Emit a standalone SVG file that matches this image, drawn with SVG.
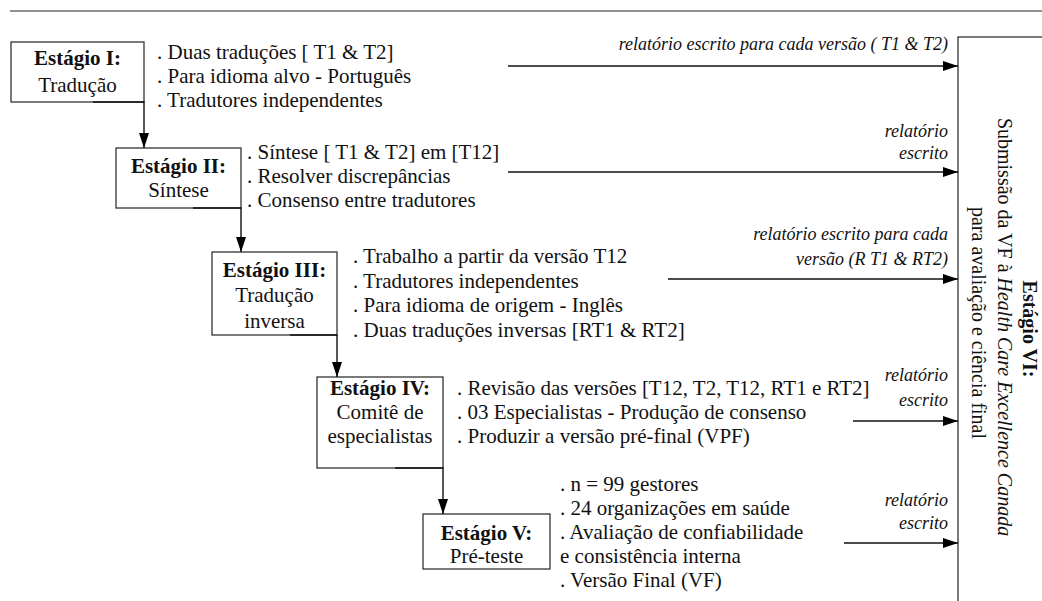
<svg xmlns="http://www.w3.org/2000/svg" width="1042" height="601" viewBox="0 0 1042 601">
<defs>
<marker id="ah" viewBox="0 0 15 10" refX="15" refY="5" markerWidth="15" markerHeight="10" markerUnits="userSpaceOnUse" orient="auto">
<path d="M0,0 L15,5 L0,10 Z" fill="#000"/>
</marker>
<style>
text{font-family:"Liberation Serif","Times New Roman",serif;font-size:21px;fill:#111}
.b{font-weight:bold}
.c{text-anchor:middle}
.v{font-size:20px}
.i{font-style:italic;font-size:18px;text-anchor:end}
.box{fill:#fff;stroke:#333;stroke-width:1.3}
.con{fill:none;stroke:#111;stroke-width:1.4}
</style>
</defs>
<rect width="1042" height="601" fill="#fff"/>
<line x1="10" y1="11" x2="1042" y2="11" stroke="#222" stroke-width="1.2"/>

<g id="stage1">
<rect class="box" x="11" y="42" width="133" height="60"/>
<text class="b c" x="77.5" y="65">Estágio I:</text>
<text class="c" x="77.5" y="92">Tradução</text>
<text x="157" y="59">. Duas traduções [ T1 &amp; T2]</text>
<text x="157" y="83">. Para idioma alvo - Português</text>
<text x="157" y="107">. Tradutores independentes</text>
</g>

<g id="stage2">
<rect class="box" x="116" y="148" width="125" height="60"/>
<text class="b c" x="178.5" y="173">Estágio II:</text>
<text class="c" x="178.5" y="197">Síntese</text>
<text x="247" y="159">. Síntese [ T1 &amp; T2] em [T12]</text>
<text x="247" y="183">. Resolver discrepâncias</text>
<text x="247" y="207">. Consenso entre tradutores</text>
</g>

<g id="stage3">
<rect class="box" x="212" y="252" width="125" height="83"/>
<text class="b c" x="274.5" y="277">Estágio III:</text>
<text class="c" x="274.5" y="302">Tradução</text>
<text class="c" x="274.5" y="328">inversa</text>
<text x="353" y="263">. Trabalho a partir da versão T12</text>
<text x="353" y="288">. Tradutores independentes</text>
<text x="353" y="312">. Para idioma de origem - Inglês</text>
<text x="353" y="337">. Duas traduções inversas [RT1 &amp; RT2]</text>
</g>

<g id="stage4">
<rect class="box" x="317" y="377" width="126" height="91"/>
<text class="b c" x="380" y="395">Estágio IV:</text>
<text class="c" x="380" y="419">Comitê de</text>
<text class="c" x="380" y="443">especialistas</text>
<text x="457" y="395">. Revisão das versões  [T12, T2, T12, RT1 e RT2]</text>
<text x="457" y="419">. 03 Especialistas - Produção de consenso</text>
<text x="457" y="443">. Produzir a versão pré-final (VPF)</text>
</g>

<g id="stage5">
<rect class="box" x="423" y="514" width="127" height="55"/>
<text class="b c" x="486.5" y="540">Estágio V:</text>
<text class="c" x="486.5" y="563">Pré-teste</text>
<text x="560" y="491">. n = 99 gestores</text>
<text x="560" y="515">. 24 organizações em saúde</text>
<text x="560" y="539">. Avaliação de confiabilidade</text>
<text x="560" y="563">e consistência interna</text>
<text x="560" y="587">. Versão Final (VF)</text>
</g>

<g id="stage6">
<rect class="box" x="958" y="37" width="120" height="600"/>
<text class="b c v" transform="translate(1023,329) rotate(90)">Estágio VI:</text>
<text class="c v" transform="translate(998,327) rotate(90)">Submissão da VF à <tspan font-style="italic">Health Care Excellence Canada</tspan></text>
<text class="c v" transform="translate(972,323) rotate(90)">para avaliação e ciência final</text>
</g>

<g id="connectors">
<path class="con" d="M93,102 H144 V148" marker-end="url(#ah)"/>
<path class="con" d="M193,208 H241 V252" marker-end="url(#ah)"/>
<path class="con" d="M290,335 H337 V377" marker-end="url(#ah)"/>
<path class="con" d="M395,468 H443 V514" marker-end="url(#ah)"/>
<line class="con" x1="508" y1="66" x2="958" y2="66" marker-end="url(#ah)"/>
<line class="con" x1="508" y1="172" x2="958" y2="172" marker-end="url(#ah)"/>
<line class="con" x1="668" y1="279" x2="958" y2="279" marker-end="url(#ah)"/>
<line class="con" x1="853" y1="421" x2="958" y2="421" marker-end="url(#ah)"/>
<line class="con" x1="844" y1="543" x2="958" y2="543" marker-end="url(#ah)"/>
<text class="i" x="948" y="50">relatório escrito para cada versão ( T1 &amp; T2)</text>
<text class="i" x="948" y="137">relatório</text>
<text class="i" x="948" y="159">escrito</text>
<text class="i" x="948" y="240">relatório escrito para cada</text>
<text class="i" x="948" y="265">versão (R T1 &amp; RT2)</text>
<text class="i" x="948" y="381">relatório</text>
<text class="i" x="948" y="406">escrito</text>
<text class="i" x="948" y="506">relatório</text>
<text class="i" x="948" y="529">escrito</text>
</g>
</svg>
